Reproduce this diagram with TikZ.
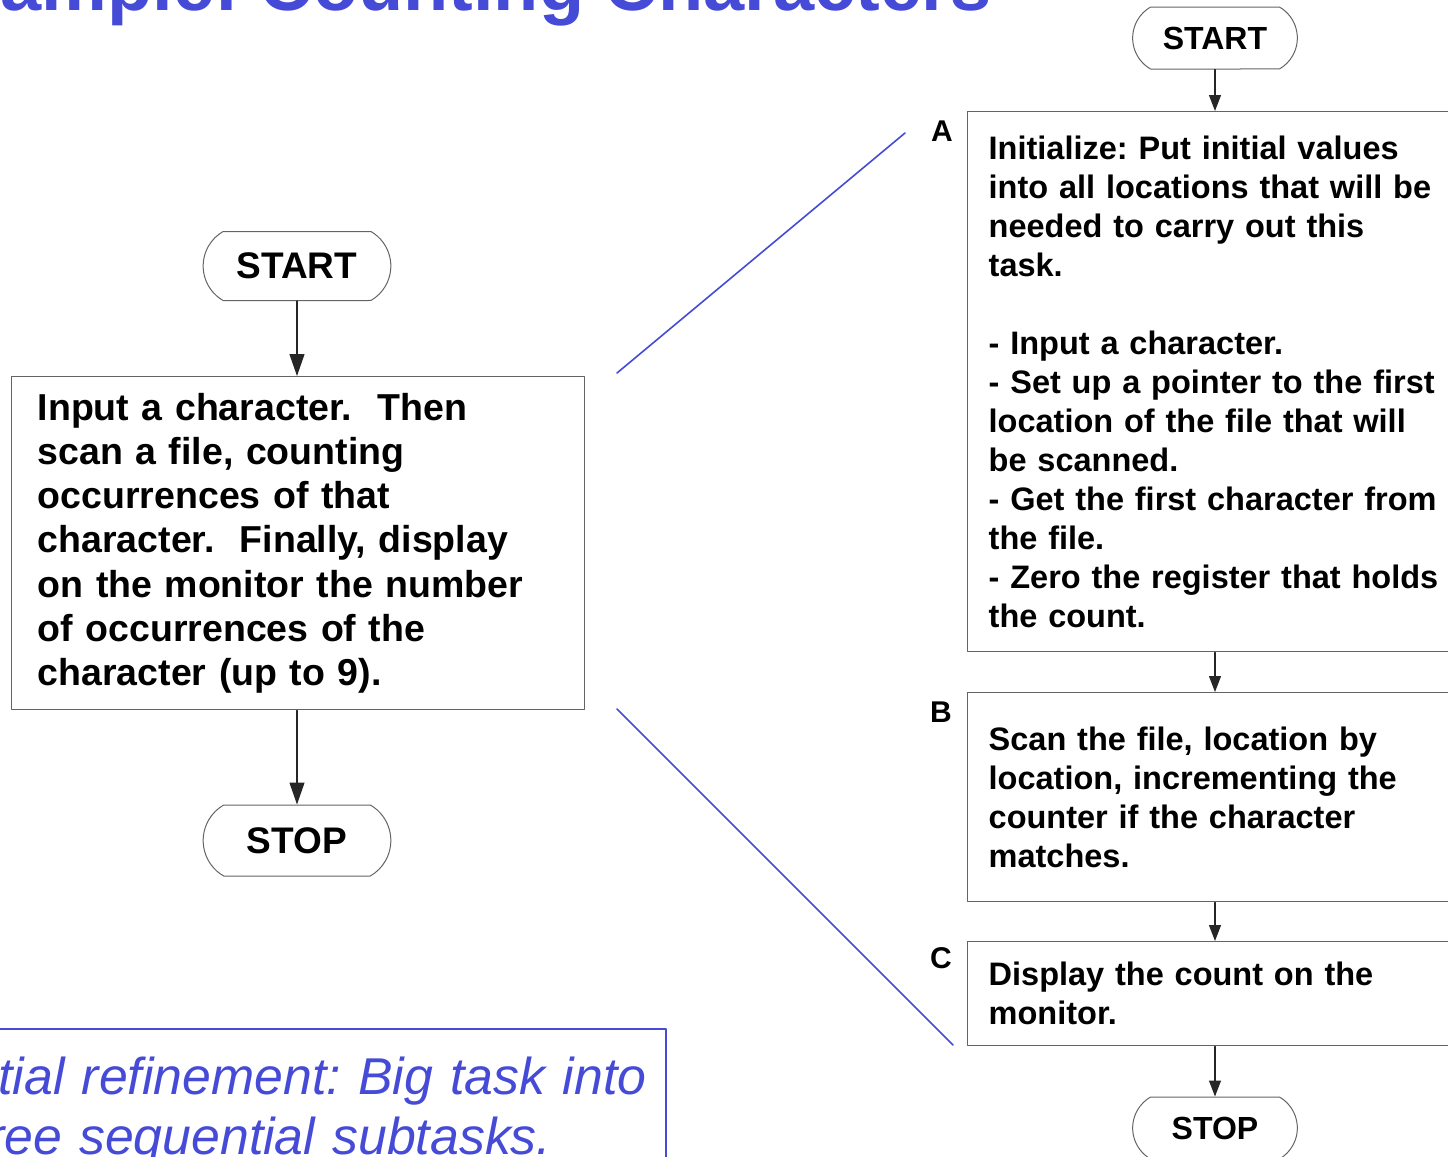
\documentclass[tikz,border=0pt]{standalone}
\usepackage{fontspec}
\setmainfont{Liberation Sans}
\usetikzlibrary{arrows.meta,shapes.misc}
\definecolor{slideblue}{RGB}{70,75,215}
\definecolor{boxgray}{RGB}{100,100,100}
\frenchspacing
\tikzset{
  term/.style={draw=boxgray, line width=0.5pt, rounded rectangle, rounded rectangle arc length=120},
  taskbox/.style={draw=boxgray, line width=0.7pt, align=left, anchor=north west},
  flowbig/.style={draw=black!85, line width=0.6pt, -{Triangle[length=11pt,width=7.5pt]}},
  flow/.style={draw=black!85, line width=0.6pt, -{Triangle[length=8pt,width=6pt]}},
  steplabel/.style={font=\fontsize{15}{16}\selectfont\bfseries, inner sep=0pt},
}
\begin{document}
\begin{tikzpicture}[x=0.5pt,y=-0.5pt, line join=round, line cap=round]
\def\bigfont{\fontsize{18.75}{22.1}\selectfont\bfseries}
\def\smallfont{\fontsize{16.25}{19.5}\selectfont\bfseries}
\useasboundingbox (0,0) rectangle (1448,1157);
\clip (0,0) rectangle (1448,1157);
% title
\node[anchor=base east, inner sep=0pt, text=slideblue, font=\fontsize{37}{40}\selectfont\bfseries] (title) at (992,10) {Example: Counting Characters};
% the whole task
\node[term, minimum width=100.5pt, minimum height=34.5pt, font=\fontsize{18.5}{20}\selectfont\bfseries] (startL) at (297,266) {START};
\node[taskbox, minimum height=166.5pt, text width=260.5pt, inner xsep=13pt, font=\bigfont] (task) at (11,376)
  {Input a character.~ Then\\
   scan a file, counting\\
   occurrences of that\\
   character.~ Finally, display\\
   on the monitor the number\\
   of occurrences of the\\
   character (up to 9).};
\node[term, minimum width=100.5pt, minimum height=35.5pt, font=\fontsize{18.5}{20}\selectfont\bfseries] (stopL) at (297,840.5) {STOP};
\draw[flowbig] (startL.south) -- (startL.south |- task.north);
\draw[flowbig] (stopL.north |- task.south) -- (stopL.north);
% three subtasks
\node[term, minimum width=89pt, minimum height=31pt, font=\fontsize{16}{18}\selectfont\bfseries] (startR) at (1215,38) {START};
\node[taskbox, minimum height=270pt, text width=240pt, inner xsep=10.5pt, font=\smallfont] (boxA) at (967,111)
  {Initialize: Put initial values\\
   into all locations that will be\\
   needed to carry out this\\
   task.\\[19.5pt]
   - Input a character.\\
   - Set up a pointer to the first\\
   location of the file that will\\
   be scanned.\\
   - Get the first character from\\
   the file.\\
   - Zero the register that holds\\
   the count.};
\node[taskbox, minimum height=104.5pt, text width=240pt, inner xsep=10.5pt, font=\smallfont] (boxB) at (967,692)
  {Scan the file, location by\\
   location, incrementing the\\
   counter if the character\\
   matches.};
\node[taskbox, minimum height=52pt, text width=240pt, inner xsep=10.5pt, font=\smallfont] (boxC) at (967,941)
  {Display the count on the\\
   monitor.};
\node[term, minimum width=89pt, minimum height=31pt, font=\fontsize{16}{18}\selectfont\bfseries] (stopR) at (1215,1128) {STOP};
\node[steplabel] (labA) at (942,131) {A};
\node[steplabel] (labB) at (941,712) {B};
\node[steplabel] (labC) at (941,958) {C};
\draw[flow] (startR.south) -- (startR.south |- boxA.north);
\draw[flow] (startR.south |- boxA.south) -- (startR.south |- boxB.north);
\draw[flow] (startR.south |- boxB.south) -- (startR.south |- boxC.north);
\draw[flow] (startR.south |- boxC.south) -- (stopR.north);
% refinement lines
\coordinate (fromTop) at (617,373);
\coordinate (toTop) at (905,133);
\coordinate (fromBot) at (617,709);
\coordinate (toBot) at (953,1045);
\draw[slideblue, line width=0.8pt] (fromTop) -- (toTop);
\draw[slideblue, line width=0.8pt] (fromBot) -- (toBot);
% note
\node[draw=slideblue, line width=0.8pt, anchor=north west, text width=357pt, inner xsep=4pt, inner ysep=14pt, align=left, text=slideblue, font=\fontsize{25.9}{30}\selectfont\itshape] (note) at (-65,1028)
  {Initial refinement: Big task into\\
   three sequential subtasks.};
\end{tikzpicture}
\end{document}
